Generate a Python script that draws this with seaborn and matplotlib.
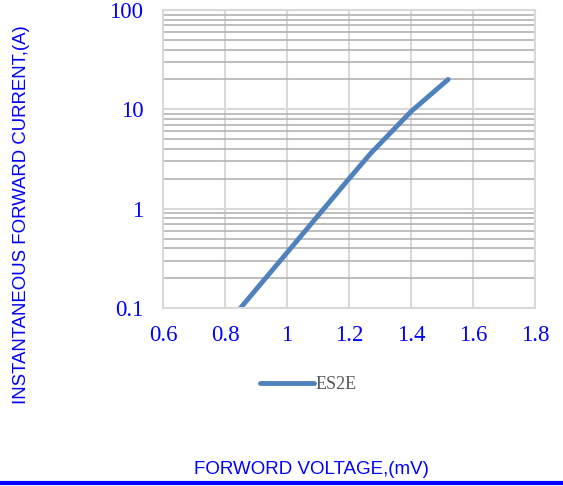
import numpy as np
import pandas as pd
import matplotlib
matplotlib.use("Agg")
import matplotlib.pyplot as plt
import seaborn as sns
from matplotlib.ticker import FixedLocator, LogLocator, NullFormatter

# forward voltage (V) vs instantaneous forward current (A)
voltage = [0.85, 1.0, 1.2, 1.27, 1.4, 1.52]
current = [0.1, 0.36, 2.0, 3.6, 9.5, 20.0]
series_name = "ES2E"

x_ticks = [0.6, 0.8, 1.0, 1.2, 1.4, 1.6, 1.8]
x_labels = ["0.6", "0.8", "1", "1.2", "1.4", "1.6", "1.8"]
y_ticks = [0.1, 1, 10, 100]
y_labels = ["0.1", "1", "10", "100"]

BLUE_TXT = "#0000ff"
LINE_COL = "#4f81bd"
SERIF = ["Liberation Serif", "DejaVu Serif"]

sns.set_style("white")
plt.rcParams["font.family"] = ["Liberation Sans", "DejaVu Sans"]

df = pd.DataFrame({"V": voltage, "I": current, "series": series_name})

fig = plt.figure(figsize=(5.63, 4.86), dpi=100)
ax = fig.add_axes([0.2895, 0.3663, 0.6607, 0.6131])

sns.lineplot(data=df, x="V", y="I", hue="series", palette=[LINE_COL],
             linewidth=3.5, ax=ax, solid_capstyle="round", legend=True)

ax.set_yscale("log")
ax.set_xlim(0.6, 1.8)
ax.set_ylim(0.1, 100)

ax.xaxis.set_major_locator(FixedLocator(x_ticks))
ax.set_xticklabels(x_labels)
ax.yaxis.set_major_locator(FixedLocator(y_ticks))
ax.set_yticklabels(y_labels)
ax.yaxis.set_minor_locator(LogLocator(base=10, subs=np.arange(2, 10)))
ax.yaxis.set_minor_formatter(NullFormatter())

ax.grid(True, which="major", axis="both", color="#d9d9d9", linewidth=1.5)
ax.grid(True, which="minor", axis="y", color="#b3b3b3", linewidth=1.2)
ax.set_axisbelow(True)

for s in ax.spines.values():
    s.set_color("#d9d9d9")
    s.set_linewidth(1.5)

ax.tick_params(axis="x", which="both", length=0, pad=12)
ax.tick_params(axis="y", which="both", length=0, pad=14)
for lbl in ax.get_xticklabels() + ax.get_yticklabels():
    lbl.set_family(SERIF)
    lbl.set_fontsize(16.5)
    lbl.set_color(BLUE_TXT)

ax.set_xlabel("")
ax.set_ylabel("")

leg = ax.legend(loc="center", bbox_to_anchor=(0.39, -0.258), frameon=False,
                handlelength=3.0, handletextpad=0.1,
                prop={"family": SERIF, "size": 13})
for t in leg.get_texts():
    t.set_color("#595959")

fig.text(0.039, 0.558, "INSTANTANEOUS FORWARD CURRENT,(A)", rotation=90,
         ha="center", va="center", color=BLUE_TXT, fontsize=13.4)
fig.text(0.553, 0.033, "FORWORD VOLTAGE,(mV)", ha="center", va="center",
         color=BLUE_TXT, fontsize=13.5)

# blue rule along the bottom
fig.add_artist(plt.Line2D([0, 1], [0.006, 0.006], transform=fig.transFigure,
                          color=BLUE_TXT, linewidth=3))

fig.savefig("out.png", dpi=100)
plt.close(fig)
